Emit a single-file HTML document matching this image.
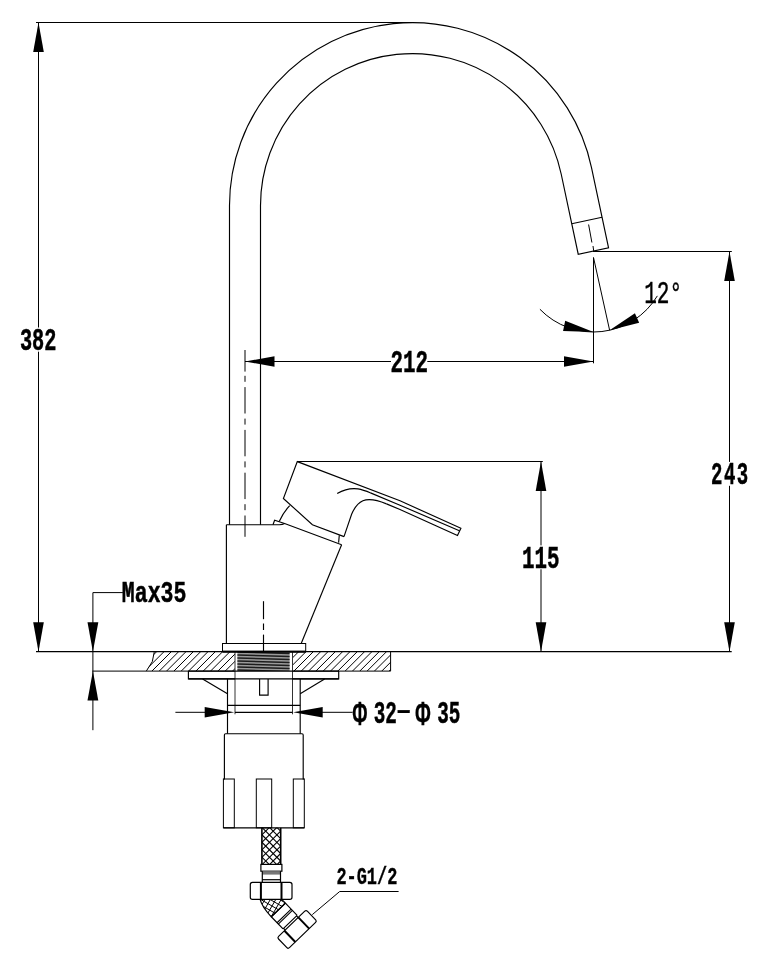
<!DOCTYPE html>
<html><head><meta charset="utf-8"><title>Faucet dimension drawing</title>
<style>
html,body{margin:0;padding:0;background:#fff;}
svg{display:block;filter:grayscale(1)}
</style></head>
<body>
<svg width="779" height="974" viewBox="0 0 779 974">
<rect width="779" height="974" fill="#fff"/>
<line x1="36" y1="22.5" x2="413" y2="22.5" stroke="#000" stroke-width="1.0" />
<line x1="38.5" y1="22.5" x2="38.5" y2="327.5" stroke="#000" stroke-width="1.0" />
<line x1="38.5" y1="351.7" x2="38.5" y2="651.7" stroke="#000" stroke-width="1.0" />
<polygon points="38.5,22.5 43.8,52 33.2,52" fill="#000"/>
<polygon points="38.5,651.7 33.2,622.2 43.8,622.2" fill="#000"/>
<text x="19.89" y="350" font-family="'Liberation Mono', monospace" font-weight="bold" font-size="30.5" textLength="36.52" lengthAdjust="spacingAndGlyphs" stroke="#000" stroke-width="0.5" >382</text>
<path d="M229.5 524.7 L229.5 205.6 A183.0 183.0 0 0 1 591.5 167.55 L608.55 247.76 L578.23 254.21 L561.18 174 A152.0 152.0 0 0 0 260.5 205.6 L260.5 524.7" stroke="#000" stroke-width="1.15" fill="none" />
<line x1="571.74" y1="223.69" x2="602.06" y2="217.24" stroke="#000" stroke-width="1.15" />
<line x1="588.6" y1="224.5" x2="591.9" y2="242.5" stroke="#000" stroke-width="1.0" />
<line x1="593" y1="246" x2="593.8" y2="251.5" stroke="#000" stroke-width="1.0" />
<line x1="245" y1="350" x2="245" y2="371.6" stroke="#000" stroke-width="1.0" />
<line x1="245" y1="375.8" x2="245" y2="536.8" stroke="#000" stroke-width="1" stroke-dasharray="6 5.3 26.4 5.1"/>
<line x1="245" y1="361.5" x2="391" y2="361.5" stroke="#000" stroke-width="1.0" />
<line x1="427.3" y1="361.5" x2="593.5" y2="361.5" stroke="#000" stroke-width="1.0" />
<polygon points="245,361.5 274.5,356.2 274.5,366.8" fill="#000"/>
<polygon points="593.5,361.5 564,366.8 564,356.2" fill="#000"/>
<text x="390.45" y="371.7" font-family="'Liberation Mono', monospace" font-weight="bold" font-size="30.5" textLength="37.5" lengthAdjust="spacingAndGlyphs" stroke="#000" stroke-width="0.5" >212</text>
<line x1="593.5" y1="257.5" x2="593.5" y2="363.3" stroke="#000" stroke-width="1.0" />
<line x1="593.5" y1="257.5" x2="609.62" y2="330.23" stroke="#000" stroke-width="1.0" />
<path d="M539.91 309.25 A74.5 74.5 0 0 0 657.36 295.87" stroke="#000" stroke-width="1.0" fill="none" />
<polygon points="593.5,332 563.07,330.96 565.2,320.78" fill="#000"/>
<polygon points="609.62,330.23 634.93,313.3 639.15,322.8" fill="#000"/>
<text x="644.22" y="302.8" font-family="'Liberation Mono', monospace" font-weight="normal" font-size="30.5" textLength="37.92" lengthAdjust="spacingAndGlyphs" stroke="#000" stroke-width="0.45" >12°</text>
<line x1="593" y1="251.5" x2="731.8" y2="251.5" stroke="#000" stroke-width="1.0" />
<line x1="729.5" y1="251.5" x2="729.5" y2="461.9" stroke="#000" stroke-width="1.0" />
<line x1="729.5" y1="485.8" x2="729.5" y2="651.7" stroke="#000" stroke-width="1.0" />
<polygon points="729.5,251.5 734.8,281 724.2,281" fill="#000"/>
<polygon points="729.5,651.7 724.2,622.2 734.8,622.2" fill="#000"/>
<text transform="translate(0 484.2) scale(0.6230 1)" x="1141.27 1161.98 1182.68" y="0" font-family="'Liberation Mono', monospace" font-weight="bold" font-size="30.5" stroke="#000" stroke-width="0.5">243</text>
<line x1="297.3" y1="461.5" x2="542.8" y2="461.5" stroke="#000" stroke-width="1.0" />
<line x1="541" y1="461.5" x2="541" y2="545.4" stroke="#000" stroke-width="1.0" />
<line x1="541" y1="569.3" x2="541" y2="651.7" stroke="#000" stroke-width="1.0" />
<polygon points="541,461.5 546.3,491 535.7,491" fill="#000"/>
<polygon points="541,651.7 535.7,622.2 546.3,622.2" fill="#000"/>
<text x="522.04" y="567.9" font-family="'Liberation Mono', monospace" font-weight="bold" font-size="30.5" textLength="37.5" lengthAdjust="spacingAndGlyphs" stroke="#000" stroke-width="0.5" >115</text>
<line x1="36" y1="651.7" x2="731.7" y2="651.7" stroke="#000" stroke-width="1.3" />
<line x1="92.4" y1="671.1" x2="235" y2="671.1" stroke="#000" stroke-width="1.0" />
<line x1="292.5" y1="671.1" x2="390.6" y2="671.1" stroke="#000" stroke-width="1.0" />
<line x1="92.9" y1="592.6" x2="122.9" y2="592.6" stroke="#000" stroke-width="1.0" />
<line x1="92.9" y1="592.6" x2="92.9" y2="651.7" stroke="#000" stroke-width="1.0" />
<polygon points="92.9,651.7 87.5,622.2 98.3,622.2" fill="#000"/>
<line x1="92.9" y1="651.7" x2="92.9" y2="730.2" stroke="#000" stroke-width="1.0" />
<polygon points="92.9,671.1 98.3,700.6 87.5,700.6" fill="#000"/>
<text x="121.83" y="601.8" font-family="'Liberation Mono', monospace" font-weight="bold" font-size="30" textLength="64.54" lengthAdjust="spacingAndGlyphs" stroke="#000" stroke-width="0.5" >Max35</text>
<clipPath id="hl"><path d="M154.3 651.7 L152.3 661.6 L146.3 671.1 L235 671.1 L235 651.7 Z"/></clipPath>
<clipPath id="hr"><rect x="292.5" y="651.7" width="98.1" height="19.399999999999977"/></clipPath>
<g clip-path="url(#hl)" stroke="#000" stroke-width="1"><line x1="114.25" y1="672.1" x2="135.65" y2="650.7"/><line x1="121.58" y1="672.1" x2="142.98" y2="650.7"/><line x1="128.91" y1="672.1" x2="150.31" y2="650.7"/><line x1="136.24" y1="672.1" x2="157.64" y2="650.7"/><line x1="143.57" y1="672.1" x2="164.97" y2="650.7"/><line x1="150.9" y1="672.1" x2="172.3" y2="650.7"/><line x1="158.23" y1="672.1" x2="179.63" y2="650.7"/><line x1="165.56" y1="672.1" x2="186.96" y2="650.7"/><line x1="172.89" y1="672.1" x2="194.29" y2="650.7"/><line x1="180.22" y1="672.1" x2="201.62" y2="650.7"/><line x1="187.55" y1="672.1" x2="208.95" y2="650.7"/><line x1="194.88" y1="672.1" x2="216.28" y2="650.7"/><line x1="202.21" y1="672.1" x2="223.61" y2="650.7"/><line x1="209.54" y1="672.1" x2="230.94" y2="650.7"/><line x1="216.87" y1="672.1" x2="238.27" y2="650.7"/><line x1="224.2" y1="672.1" x2="245.6" y2="650.7"/><line x1="231.53" y1="672.1" x2="252.93" y2="650.7"/><line x1="238.86" y1="672.1" x2="260.26" y2="650.7"/></g>
<g clip-path="url(#hr)" stroke="#000" stroke-width="1"><line x1="256.3" y1="672.1" x2="277.7" y2="650.7"/><line x1="263.62" y1="672.1" x2="285.02" y2="650.7"/><line x1="270.94" y1="672.1" x2="292.34" y2="650.7"/><line x1="278.26" y1="672.1" x2="299.66" y2="650.7"/><line x1="285.58" y1="672.1" x2="306.98" y2="650.7"/><line x1="292.9" y1="672.1" x2="314.3" y2="650.7"/><line x1="300.22" y1="672.1" x2="321.62" y2="650.7"/><line x1="307.54" y1="672.1" x2="328.94" y2="650.7"/><line x1="314.86" y1="672.1" x2="336.26" y2="650.7"/><line x1="322.18" y1="672.1" x2="343.58" y2="650.7"/><line x1="329.5" y1="672.1" x2="350.9" y2="650.7"/><line x1="336.82" y1="672.1" x2="358.22" y2="650.7"/><line x1="344.14" y1="672.1" x2="365.54" y2="650.7"/><line x1="351.46" y1="672.1" x2="372.86" y2="650.7"/><line x1="358.78" y1="672.1" x2="380.18" y2="650.7"/><line x1="366.1" y1="672.1" x2="387.5" y2="650.7"/><line x1="373.42" y1="672.1" x2="394.82" y2="650.7"/><line x1="380.74" y1="672.1" x2="402.14" y2="650.7"/><line x1="388.06" y1="672.1" x2="409.46" y2="650.7"/></g>
<path d="M154.3 651.7 L152.3 661.6 L146.3 671.1" stroke="#000" stroke-width="1" fill="none" />
<line x1="235" y1="651.7" x2="235" y2="714.3" stroke="#333" stroke-width="1" />
<line x1="292.5" y1="651.7" x2="292.5" y2="714.3" stroke="#333" stroke-width="1" />
<line x1="390.6" y1="651.7" x2="390.6" y2="671.1" stroke="#000" stroke-width="1" />
<clipPath id="th"><rect x="236.5" y="651.7" width="54" height="19.4"/></clipPath>
<g clip-path="url(#th)"><rect x="237.4" y="651.7" width="52.2" height="19.4" fill="#9a9a9a"/><line x1="237.4" y1="652" x2="289.6" y2="653.6" stroke="#1c1c1c" stroke-width="1.5"/><line x1="237.4" y1="655" x2="289.6" y2="656.6" stroke="#1c1c1c" stroke-width="1.5"/><line x1="237.4" y1="658" x2="289.6" y2="659.6" stroke="#1c1c1c" stroke-width="1.5"/><line x1="237.4" y1="661" x2="289.6" y2="662.6" stroke="#1c1c1c" stroke-width="1.5"/><line x1="237.4" y1="664" x2="289.6" y2="665.6" stroke="#1c1c1c" stroke-width="1.5"/><line x1="237.4" y1="667" x2="289.6" y2="668.6" stroke="#1c1c1c" stroke-width="1.5"/><line x1="237.4" y1="670" x2="289.6" y2="671.6" stroke="#1c1c1c" stroke-width="1.5"/><line x1="237.4" y1="673" x2="289.6" y2="674.6" stroke="#1c1c1c" stroke-width="1.5"/></g>
<line x1="222.5" y1="651.7" x2="305.7" y2="651.7" stroke="#000" stroke-width="2.0" />
<line x1="226.4" y1="524.7" x2="226.4" y2="643.5" stroke="#000" stroke-width="1.15" />
<path d="M226.4 524.7 L279.5 524.7 Q282.5 524.6 284.6 523.5" stroke="#000" stroke-width="1.15" fill="none" />
<line x1="341.6" y1="544.7" x2="301.2" y2="643.5" stroke="#000" stroke-width="1.15" />
<rect x="222.5" y="643.5" width="83.2" height="7.8" fill="none" stroke="#000" stroke-width="1"/>
<line x1="263.5" y1="601.2" x2="263.5" y2="619.2" stroke="#000" stroke-width="1.15" />
<line x1="263.5" y1="623.5" x2="263.5" y2="630" stroke="#000" stroke-width="1.15" />
<line x1="263.5" y1="634.6" x2="263.5" y2="651" stroke="#000" stroke-width="1.15" />
<path d="M344 536.6 L312.4 524.7 L283.4 498.5 L297.3 461.6 L400 500.8 L460.9 528.2 L457.5 535.5 L400 509.5 L386.5 503.9" stroke="#000" stroke-width="1.15" fill="none" />
<path d="M344 536.6 L351.6 514.2 Q356 504 362.9 500.8 Q371 497.5 386.5 503.9" stroke="#000" stroke-width="1.15" fill="none" />
<path d="M337.2 493.6 C344 489.6 351 487.9 358 488.9 C363 489.7 367 491.4 371.1 493.1 L400 505.2 L459.4 530.8" stroke="#000" stroke-width="1.15" fill="none" />
<path d="M289.7 505.6 Q283.2 512.5 279.2 521.4" stroke="#000" stroke-width="1.15" fill="none" />
<path d="M273 524.7 L274.6 520.3 L284.6 523.5 L341.6 544.7" stroke="#000" stroke-width="1.15" fill="none" />
<line x1="339.3" y1="535.2" x2="338.6" y2="542.6" stroke="#000" stroke-width="1.15" />
<path d="M235 678.9 L188.4 678.9 L188.4 671.1" stroke="#000" stroke-width="1.15" fill="none" />
<path d="M292.5 678.9 L338.7 678.9 L338.7 671.1" stroke="#000" stroke-width="1.15" fill="none" />
<line x1="188.4" y1="671.1" x2="338.7" y2="671.1" stroke="#000" stroke-width="1.15" />
<line x1="188.4" y1="678.9" x2="338.7" y2="678.9" stroke="#000" stroke-width="1.15" />
<line x1="202.6" y1="678.9" x2="227.5" y2="693.8" stroke="#000" stroke-width="1.15" />
<line x1="324.6" y1="678.9" x2="300.2" y2="693.8" stroke="#000" stroke-width="1.15" />
<line x1="227.5" y1="678.9" x2="227.5" y2="733.7" stroke="#000" stroke-width="1.15" />
<line x1="300.2" y1="678.9" x2="300.2" y2="733.7" stroke="#000" stroke-width="1.15" />
<line x1="227.5" y1="705.4" x2="300.2" y2="705.4" stroke="#000" stroke-width="1.15" />
<line x1="235" y1="712.3" x2="292.5" y2="712.3" stroke="#000" stroke-width="1.15" />
<path d="M259.6 678.9 L259.6 695.1 L268.1 695.1 L268.1 678.9" stroke="#000" stroke-width="1.15" fill="none" />
<line x1="175.4" y1="712.3" x2="205" y2="712.3" stroke="#000" stroke-width="1" />
<polygon points="234.2,712.3 204.7,717.6 204.7,707" fill="#000"/>
<line x1="322" y1="712.3" x2="352.6" y2="712.3" stroke="#000" stroke-width="1" />
<polygon points="293.2,712.3 322.7,707 322.7,717.6" fill="#000"/>
<text font-family="'Liberation Mono', monospace" font-weight="bold" font-size="30.5" stroke="#000" stroke-width="0.5"><tspan x="352.24" y="725.3" font-family="'Liberation Sans', sans-serif" font-size="34" textLength="15.22" lengthAdjust="spacingAndGlyphs" stroke-width="0.3">Φ</tspan> <tspan x="373.74" y="722.5" textLength="23.12" lengthAdjust="spacingAndGlyphs">32</tspan><tspan x="391.3" y="717.7" font-size="24" stroke-width="0.2" textLength="25" lengthAdjust="spacingAndGlyphs">-</tspan><tspan x="415.11" y="725.3" font-family="'Liberation Sans', sans-serif" font-size="34" textLength="15.78" lengthAdjust="spacingAndGlyphs" stroke-width="0.3">Φ</tspan> <tspan x="437.14" y="722.5" textLength="23.12" lengthAdjust="spacingAndGlyphs">35</tspan></text>
<path d="M223.4 779 L224.4 779 L224.4 735 Q224.4 733.7 225.6 733.7 L302 733.7 Q303.2 733.7 303.2 735 L303.2 779 L304.3 779" stroke="#000" stroke-width="1.15" fill="none" />
<rect x="223.4" y="779" width="10.9" height="48.8" fill="none" stroke="#000"/>
<rect x="256.3" y="779" width="15.4" height="48.8" fill="none" stroke="#000"/>
<rect x="293.3" y="779" width="11" height="48.8" fill="none" stroke="#000"/>
<line x1="223.4" y1="827.8" x2="304.3" y2="827.8" stroke="#000" stroke-width="1.15" />
<clipPath id="hs"><rect x="261.9" y="827.8" width="18.8" height="36.6"/></clipPath>
<g clip-path="url(#hs)" stroke="#000" stroke-width="1.1"><line x1="193.22" y1="825.8" x2="233.82" y2="866.4"/><line x1="218.82" y1="825.8" x2="178.22" y2="866.4"/><line x1="200.68" y1="825.8" x2="241.28" y2="866.4"/><line x1="226.28" y1="825.8" x2="185.68" y2="866.4"/><line x1="208.14" y1="825.8" x2="248.74" y2="866.4"/><line x1="233.74" y1="825.8" x2="193.14" y2="866.4"/><line x1="215.6" y1="825.8" x2="256.2" y2="866.4"/><line x1="241.2" y1="825.8" x2="200.6" y2="866.4"/><line x1="223.06" y1="825.8" x2="263.66" y2="866.4"/><line x1="248.66" y1="825.8" x2="208.06" y2="866.4"/><line x1="230.52" y1="825.8" x2="271.12" y2="866.4"/><line x1="256.12" y1="825.8" x2="215.52" y2="866.4"/><line x1="237.98" y1="825.8" x2="278.58" y2="866.4"/><line x1="263.58" y1="825.8" x2="222.98" y2="866.4"/><line x1="245.44" y1="825.8" x2="286.04" y2="866.4"/><line x1="271.04" y1="825.8" x2="230.44" y2="866.4"/><line x1="252.9" y1="825.8" x2="293.5" y2="866.4"/><line x1="278.5" y1="825.8" x2="237.9" y2="866.4"/><line x1="260.36" y1="825.8" x2="300.96" y2="866.4"/><line x1="285.96" y1="825.8" x2="245.36" y2="866.4"/><line x1="267.82" y1="825.8" x2="308.42" y2="866.4"/><line x1="293.42" y1="825.8" x2="252.82" y2="866.4"/><line x1="275.28" y1="825.8" x2="315.88" y2="866.4"/><line x1="300.88" y1="825.8" x2="260.28" y2="866.4"/><line x1="282.74" y1="825.8" x2="323.34" y2="866.4"/><line x1="308.34" y1="825.8" x2="267.74" y2="866.4"/><line x1="290.2" y1="825.8" x2="330.8" y2="866.4"/><line x1="315.8" y1="825.8" x2="275.2" y2="866.4"/><line x1="297.66" y1="825.8" x2="338.26" y2="866.4"/><line x1="323.26" y1="825.8" x2="282.66" y2="866.4"/><line x1="305.12" y1="825.8" x2="345.72" y2="866.4"/><line x1="330.72" y1="825.8" x2="290.12" y2="866.4"/></g>
<line x1="261.9" y1="827.8" x2="261.9" y2="864.4" stroke="#000" stroke-width="1.6" />
<line x1="280.7" y1="827.8" x2="280.7" y2="864.4" stroke="#000" stroke-width="1.6" />
<rect x="260.9" y="864.4" width="21" height="6.8" fill="none" stroke="#000" stroke-width="1.2"/>
<rect x="262.3" y="871.2" width="18.2" height="3.4" fill="#777"/>
<line x1="262.3" y1="871.2" x2="262.3" y2="882" stroke="#000" stroke-width="1.2" />
<line x1="280.5" y1="871.2" x2="280.5" y2="882" stroke="#000" stroke-width="1.2" />
<line x1="262.3" y1="879.7" x2="280.5" y2="879.7" stroke="#000" stroke-width="1.2" />
<rect x="250.3" y="882.3" width="41.7" height="17.1" rx="2.2" fill="none" stroke="#000" stroke-width="1.2"/>
<line x1="260.9" y1="882.3" x2="260.9" y2="899.4" stroke="#000" stroke-width="2" />
<line x1="281.5" y1="882.3" x2="281.5" y2="899.4" stroke="#000" stroke-width="2" />
<clipPath id="hb"><path d="M260.2 899.6 Q261.8 906.5 271.29 916.79 L285.39 903.17 Q283.6 901 281.5 899.6 Z"/></clipPath>
<g clip-path="url(#hb)" stroke="#000" stroke-width="1"><line x1="257.77" y1="870.65" x2="309.73" y2="900.65"/><line x1="266.65" y1="868.27" x2="236.65" y2="920.23"/><line x1="255.42" y1="874.72" x2="307.38" y2="904.72"/><line x1="270.72" y1="870.62" x2="240.72" y2="922.58"/><line x1="253.07" y1="878.79" x2="305.03" y2="908.79"/><line x1="274.79" y1="872.97" x2="244.79" y2="924.93"/><line x1="250.72" y1="882.86" x2="302.68" y2="912.86"/><line x1="278.86" y1="875.32" x2="248.86" y2="927.28"/><line x1="248.37" y1="886.93" x2="300.33" y2="916.93"/><line x1="282.93" y1="877.67" x2="252.93" y2="929.63"/><line x1="246.02" y1="891" x2="297.98" y2="921"/><line x1="287" y1="880.02" x2="257" y2="931.98"/><line x1="243.67" y1="895.07" x2="295.63" y2="925.07"/><line x1="291.07" y1="882.37" x2="261.07" y2="934.33"/><line x1="241.32" y1="899.14" x2="293.28" y2="929.14"/><line x1="295.14" y1="884.72" x2="265.14" y2="936.68"/><line x1="238.97" y1="903.21" x2="290.93" y2="933.21"/><line x1="299.21" y1="887.07" x2="269.21" y2="939.03"/><line x1="236.62" y1="907.28" x2="288.58" y2="937.28"/><line x1="303.28" y1="889.42" x2="273.28" y2="941.38"/><line x1="234.27" y1="911.35" x2="286.23" y2="941.35"/><line x1="307.35" y1="891.77" x2="277.35" y2="943.73"/></g>
<path d="M260.2 899.6 Q261.8 906.5 271.29 916.79 L285.39 903.17 Q283.6 901 281.5 899.6" stroke="#000" stroke-width="1.2" fill="none" />
<g transform="translate(297.1 929.4) rotate(46.0)" fill="none" stroke="#000" stroke-width="1.2"><path d="M-27 9.8 L-10.1 9.8 M-27 -9.8 L-10.1 -9.8 M-27 -9.8 L-27 9.8 M-10.1 -9.8 L-10.1 9.8 M-10.1 9 L-7.8 9 M-10.1 -9 L-7.8 -9"/><path d="M-18.7 -9.8 L-18.7 9.8 M-16.9 -9.8 L-16.9 9.8" stroke-width="1.1"/><rect x="-7.8" y="-20" width="15.6" height="40" rx="1.8"/><path d="M-7.8 -9.2 L7.8 -9.2 M-7.8 10 L7.8 10" stroke-width="2"/></g>
<path d="M312.3 914.6 L339.7 891.5 L398.6 891.5" stroke="#000" stroke-width="1" fill="none" />
<text x="336.38" y="884.2" font-family="'Liberation Mono', monospace" font-weight="bold" font-size="24.3" textLength="60.93" lengthAdjust="spacingAndGlyphs" stroke="#000" stroke-width="0.4" >2-G1/2</text>
</svg>
</body></html>
